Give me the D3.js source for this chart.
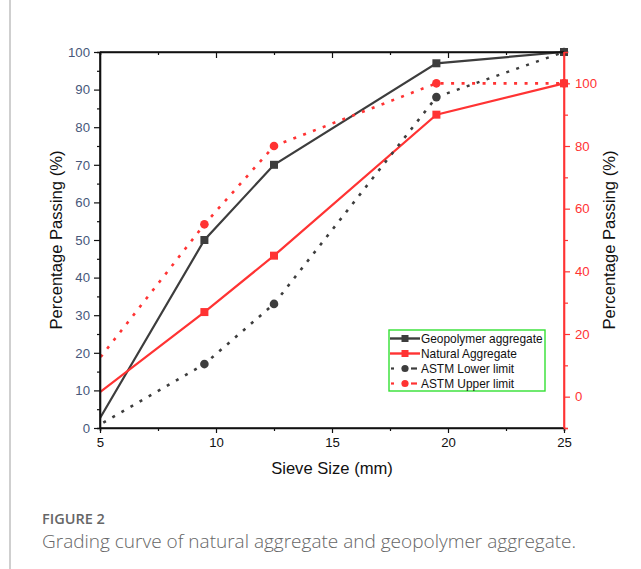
<!DOCTYPE html>
<html>
<head>
<meta charset="utf-8">
<script src="https://cdn.jsdelivr.net/npm/d3@7"></script>
<style>
  body { margin: 0; background: #fff; }
  svg text { font-family: "Liberation Sans", Arial, sans-serif; }
</style>
</head>
<body>
<div id="chart"></div>
<script>
// sieve sizes (mm) and percentage passing
var sieve = [4.75, 9.5, 12.5, 19.5, 25];
var geopolymer = [0, 50, 70, 97, 100];     // left axis
var natural = [0, 27, 45, 90, 100];        // right axis
var astmLower = [0, 17, 33, 88, 100];      // left axis
var astmUpper = [10, 55, 80, 100, 100];    // right axis

var xTicks = [5, 10, 15, 20, 25];
var leftTicks = [0, 10, 20, 30, 40, 50, 60, 70, 80, 90, 100];
var rightTicks = [0, 20, 40, 60, 80, 100];

var width = 641, height = 569;
var pLeft = 100, pRight = 564, pTop = 52, pBottom = 428;
var black = "#3d3d3d", red = "#ff3333";

var x = d3.scaleLinear().domain([5, 25]).range([pLeft, pRight]);
var yL = d3.scaleLinear().domain([0, 100]).range([pBottom, pTop]);
var yR = d3.scaleLinear().domain([-10, 110]).range([pBottom, pTop]);

var svg = d3.select("#chart").append("svg")
    .attr("width", width)
    .attr("height", height);

// left border of the figure block
svg.append("line")
    .attr("x1", 10).attr("x2", 10).attr("y1", 0).attr("y2", height)
    .style("stroke", "#cfcfcf").style("stroke-width", 2);

svg.append("clipPath").attr("id", "clip")
    .append("rect").attr("x", pLeft).attr("y", pTop - 6)
    .attr("width", pRight - pLeft + 6).attr("height", pBottom - pTop + 6);

var plot = svg.append("g").attr("clip-path", "url(#clip)");

var series = [
    { name: "Geopolymer aggregate", vals: geopolymer, y: yL, color: black, dash: null, mark: "square" },
    { name: "Natural Aggregate", vals: natural, y: yR, color: red, dash: null, mark: "square" },
    { name: "ASTM Lower limit", vals: astmLower, y: yL, color: black, dash: "3,7.5", mark: "circle" },
    { name: "ASTM Upper limit", vals: astmUpper, y: yR, color: red, dash: "3,7.5", mark: "circle" }
];

series.forEach(function (s) {
    var line = d3.line()
        .x(function (d, i) { return x(sieve[i]); })
        .y(function (d) { return s.y(d); });
    plot.append("path")
        .datum(s.vals)
        .attr("d", line)
        .style("fill", "none")
        .style("stroke", s.color)
        .style("stroke-width", s.dash ? 2.6 : 2.2)
        .style("stroke-dasharray", s.dash);
});

series.forEach(function (s) {
    var g = plot.append("g");
    s.vals.forEach(function (v, i) {
        if (sieve[i] < 5) return;
        if (s.mark == "square") {
            g.append("rect")
                .attr("x", x(sieve[i]) - 4).attr("y", s.y(v) - 4)
                .attr("width", 8).attr("height", 8)
                .style("fill", s.color);
        } else {
            g.append("circle")
                .attr("cx", x(sieve[i])).attr("cy", s.y(v)).attr("r", 4.3)
                .style("fill", s.color);
        }
    });
});

// bottom axis
var xAxis = svg.append("g").attr("transform", "translate(0," + pBottom + ")")
    .call(d3.axisBottom(x).tickValues(xTicks).tickSize(5).tickPadding(5).tickFormat(d3.format("d")));
xAxis.append("g").call(d3.axisBottom(x).tickValues([7.5, 12.5, 17.5, 22.5]).tickSize(3).tickFormat(""));

// top axis (ticks inside)
var xTop = svg.append("g").attr("transform", "translate(0," + pTop + ")")
    .call(d3.axisBottom(x).tickValues([10, 15, 20]).tickSize(6).tickFormat(""));
xTop.append("g").call(d3.axisBottom(x).tickValues([7.5, 12.5, 17.5, 22.5]).tickSize(3).tickFormat(""));

// left axis
var yAxis = svg.append("g").attr("transform", "translate(" + pLeft + ",0)")
    .call(d3.axisLeft(yL).tickValues(leftTicks).tickSize(6).tickPadding(4));
yAxis.append("g").call(d3.axisLeft(yL).tickValues(d3.range(5, 100, 10)).tickSize(3).tickFormat(""));

// right axis
var yAxisR = svg.append("g").attr("transform", "translate(" + pRight + ",0)")
    .call(d3.axisRight(yR).tickValues(rightTicks).tickSize(6).tickPadding(5));
yAxisR.append("g").call(d3.axisRight(yR).tickValues([-10, 10, 30, 50, 70, 90]).tickSize(4).tickFormat(""));

[xAxis, xTop, yAxis, yAxisR].forEach(function (a) {
    a.selectAll("path.domain").style("stroke-width", 1.6);
    a.selectAll("line").style("stroke-width", 1.2);
    a.selectAll("text").style("font-size", "13.2px");
});
xAxis.selectAll("path, line").style("stroke", "#111");
xTop.selectAll("path, line").style("stroke", "#111");
yAxis.selectAll("path, line").style("stroke", "#111");
xAxis.selectAll("text").style("fill", "#111");
yAxis.selectAll("text").style("fill", "#47577a");
yAxisR.selectAll("path, line").style("stroke", red);
yAxisR.selectAll("text").style("fill", red);
xTop.select("path.domain").attr("d", "M" + pLeft + ",0H" + pRight);
xAxis.select("path.domain").attr("d", "M" + pLeft + ",0H" + pRight);
yAxis.select("path.domain").attr("d", "M0," + pBottom + "V" + pTop);
yAxisR.select("path.domain").attr("d", "M0," + pBottom + "V" + pTop);

// axis titles
svg.append("text")
    .attr("transform", "translate(62," + ((pTop + pBottom) / 2) + ") rotate(-90)")
    .attr("text-anchor", "middle")
    .style("font-size", "16.6px").style("fill", "#111")
    .text("Percentage Passing (%)");

svg.append("text")
    .attr("transform", "translate(615," + ((pTop + pBottom) / 2) + ") rotate(-90)")
    .attr("text-anchor", "middle")
    .style("font-size", "16.6px").style("fill", "#111")
    .text("Percentage Passing (%)");

svg.append("text")
    .attr("x", (pLeft + pRight) / 2).attr("y", 474)
    .attr("text-anchor", "middle")
    .style("font-size", "16.6px").style("fill", "#111")
    .text("Sieve Size (mm)");

// legend
var leg = svg.append("g").attr("transform", "translate(389,330)");
leg.append("rect")
    .attr("width", 156).attr("height", 61)
    .style("fill", "#fff").style("stroke", "#33e033").style("stroke-width", 1.4);

series.forEach(function (s, i) {
    var ly = 8.5 + i * 15;
    var row = leg.append("g").attr("transform", "translate(0," + ly + ")");
    if (s.dash) {
        row.append("line").attr("x1", 2).attr("x2", 5).attr("y1", 0).attr("y2", 0)
            .style("stroke", s.color).style("stroke-width", 2.2);
        row.append("line").attr("x1", 22).attr("x2", 28).attr("y1", 0).attr("y2", 0)
            .style("stroke", s.color).style("stroke-width", 2.2);
        row.append("circle").attr("cx", 16).attr("cy", 0).attr("r", 3.6).style("fill", s.color);
    } else {
        row.append("line").attr("x1", 1).attr("x2", 31).attr("y1", 0).attr("y2", 0)
            .style("stroke", s.color).style("stroke-width", 2.4);
        row.append("rect").attr("x", 12.5).attr("y", -3.5).attr("width", 7).attr("height", 7)
            .style("fill", s.color);
    }
    row.append("text")
        .attr("x", 32).attr("y", 4.2)
        .style("font-size", "11.9px").style("fill", "#111")
        .text(s.name);
});

// caption
svg.append("text")
    .attr("x", 42).attr("y", 524)
    .style("font-family", "'Open Sans', sans-serif").style("font-weight", 600)
    .style("font-size", "14.5px").style("fill", "#666")
    .text("FIGURE 2");

svg.append("text")
    .attr("x", 42).attr("y", 548)
    .style("font-family", "'Open Sans', sans-serif").style("font-weight", 300)
    .style("font-size", "19px").style("fill", "#666")
    .text("Grading curve of natural aggregate and geopolymer aggregate.");
</script>
</body>
</html>
